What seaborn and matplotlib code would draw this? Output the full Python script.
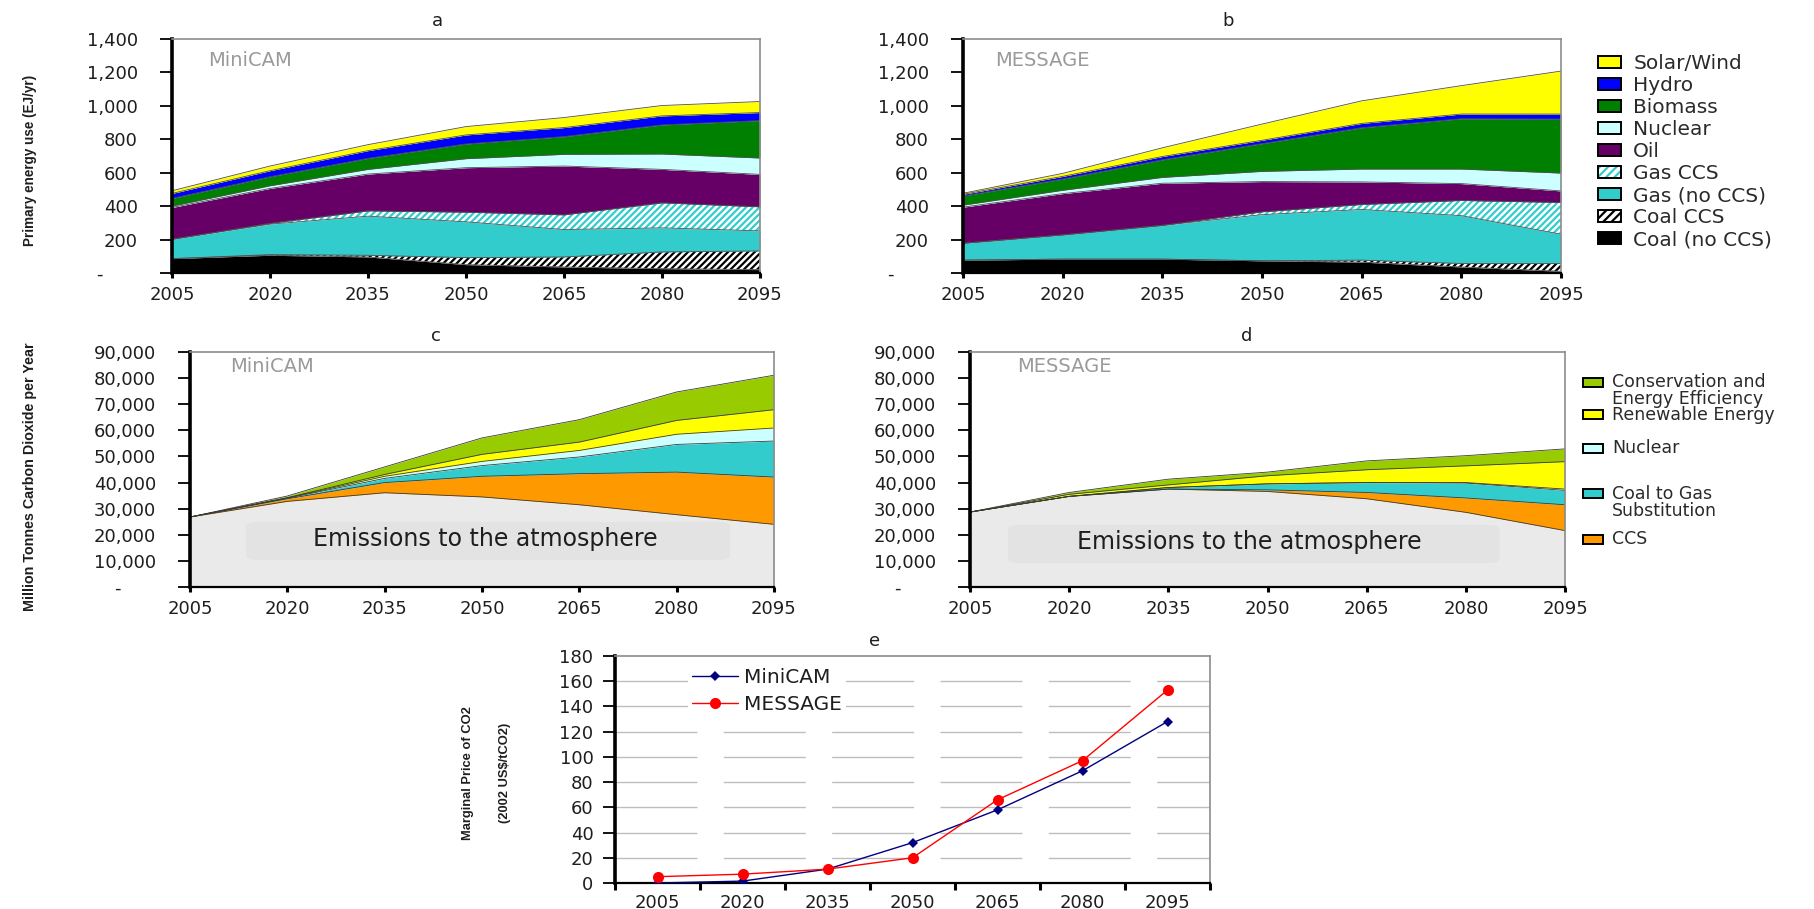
import numpy as np
import pandas as pd
import matplotlib
matplotlib.use("Agg")
import matplotlib.pyplot as plt
from matplotlib import font_manager
from matplotlib.patches import Patch, Rectangle, FancyBboxPatch
from matplotlib.ticker import FuncFormatter, FixedLocator
import seaborn as sns

# ---------------- data ----------------
years = [2005, 2020, 2035, 2050, 2065, 2080, 2095]

# Primary energy by source (EJ/yr), bottom to top
energy_sources = ["Coal (no CCS)", "Coal CCS", "Gas (no CCS)", "Gas CCS", "Oil",
                  "Nuclear", "Biomass", "Hydro", "Solar/Wind"]
minicam_energy_coal = [86, 106, 96, 50, 36, 26, 20]
minicam_energy_coal_ccs = [0, 4, 10, 42, 60, 100, 112]
minicam_energy_gas = [116, 182, 234, 214, 164, 144, 120]
minicam_energy_gas_ccs = [0, 5, 32, 58, 88, 150, 144]
minicam_energy_oil = [190, 209, 220, 266, 292, 200, 194]
minicam_energy_nuclear = [8, 16, 28, 54, 70, 92, 98]
minicam_energy_biomass = [46, 54, 66, 88, 106, 174, 224]
minicam_energy_hydro = [30, 36, 46, 54, 54, 54, 48]
minicam_energy_solar = [16, 28, 36, 50, 60, 62, 66]

message_energy_coal = [77, 83, 83, 73, 65, 36, 10]
message_energy_coal_ccs = [0, 0, 0, 0, 12, 21, 47]
message_energy_gas = [101, 145, 202, 276, 303, 286, 175]
message_energy_gas_ccs = [0, 0, 0, 17, 30, 91, 190]
message_energy_oil = [216, 247, 252, 181, 135, 101, 69]
message_energy_nuclear = [12, 20, 35, 61, 77, 87, 107]
message_energy_biomass = [55, 67, 105, 166, 247, 301, 323]
message_energy_hydro = [10, 16, 20, 20, 26, 28, 30]
message_energy_solar = [6, 18, 52, 97, 135, 170, 257]

# CO2 emissions and mitigation wedges (Mt CO2/yr), bottom to top
wedge_names = ["Emissions to the atmosphere", "CCS", "Coal to Gas\nSubstitution",
               "Nuclear", "Renewable Energy", "Conservation and\nEnergy Efficiency"]
minicam_emissions = [26800, 32800, 36100, 34500, 31500, 27700, 24000]
minicam_ccs = [0, 1000, 3900, 7900, 11900, 16300, 18100]
minicam_coal_to_gas = [0, 200, 1600, 4100, 6400, 10600, 13800]
minicam_nuclear = [0, 100, 800, 1600, 2500, 3900, 5000]
minicam_renewable = [0, 100, 700, 2700, 3200, 5300, 7000]
minicam_conservation = [0, 650, 2900, 6300, 8600, 10900, 13200]

message_emissions = [28700, 34700, 37500, 36600, 33800, 28600, 21600]
message_ccs = [0, 0, 0, 600, 2400, 5500, 9900]
message_coal_to_gas = [0, 0, 600, 2300, 3800, 5700, 5500]
message_nuclear = [0, 0, 0, 0, 0, 200, 500]
message_renewable = [0, 800, 1000, 3100, 4900, 6400, 10500]
message_conservation = [0, 700, 2200, 1400, 3400, 3900, 4900]

# Marginal price of CO2 (2002 US$/tCO2)
price_minicam = [0, 1.5, 11, 32, 58, 89, 128]
price_message = [5, 7, 11, 20, 66, 97, 153]

# ---------------- style ----------------
sns.set_style("white")
plt.rcParams["font.family"] = ["DejaVu Sans"]
plt.rcParams["hatch.linewidth"] = 1.6

installed = {f.name for f in font_manager.fontManager.ttflist}
if "Liberation Sans Narrow" in installed:
    YLAB = dict(family=["Liberation Sans Narrow"], fontweight="bold")
    YLAB_SCALE = 1.22
else:
    YLAB = dict(family=["Liberation Sans"], fontweight="bold")
    YLAB_SCALE = 0.93

W, H = 1814, 909
fig = plt.figure(figsize=(W / 100, H / 100), dpi=100)
fig.patch.set_facecolor("white")

TXT = "#1e1e1e"
GRAY_LABEL = "#9a9a9a"
TICK_FS = 13


def axes_px(left, right, top, bottom):
    return fig.add_axes([left / W, 1 - bottom / H, (right - left) / W, (bottom - top) / H])


def fig_text(x, y, s, **kw):
    return fig.text(x / W, 1 - y / H, s, **kw)


def style_axes(ax, ypad):
    for side in ("top", "right"):
        ax.spines[side].set_color("#8c8c8c")
        ax.spines[side].set_linewidth(1.2)
    ax.spines["left"].set_color("black")
    ax.spines["left"].set_linewidth(2.6)
    ax.spines["bottom"].set_color("black")
    ax.spines["bottom"].set_linewidth(1.6)
    ax.tick_params(axis="y", direction="out", length=8.5, width=1.3, color="black",
                   pad=ypad, labelsize=TICK_FS, labelcolor=TXT, left=True)
    ax.tick_params(axis="x", direction="out", length=3.5, width=2.2, color="black",
                   pad=6, labelsize=TICK_FS, labelcolor=TXT, bottom=True)


def thousands(v, _):
    if abs(v) < 1e-9:
        return "-      "
    return f"{v:,.0f}"


def stacked(ax, layers, specs, edge="#3a3a3a"):
    x = np.array(years, dtype=float)
    base = np.zeros(len(x))
    for vals, (color, hatched) in zip(layers, specs):
        top = base + np.asarray(vals, dtype=float)
        if hatched:
            ax.fill_between(x, base, top, facecolor="white", edgecolor=color,
                            hatch="/////", linewidth=0)
        else:
            ax.fill_between(x, base, top, facecolor=color, linewidth=0)
        ax.plot(x, top, color=edge, lw=0.6)
        base = top
    ax.set_xlim(years[0], years[-1])
    ax.set_xticks(years)
    ax.set_xticklabels([str(y) for y in years])


energy_specs = [("#000000", False), ("#000000", True), ("#33cccc", False), ("#33cccc", True),
                ("#660066", False), ("#ccffff", False), ("#008000", False),
                ("#0000ff", False), ("#ffff00", False)]
wedge_specs = [("#eaeaea", False), ("#ff9900", False), ("#33cccc", False),
               ("#ccffff", False), ("#ffff00", False), ("#99cc00", False)]

# ---------------- panel a ----------------
ax_a = axes_px(172, 760, 39, 273)
stacked(ax_a, [minicam_energy_coal, minicam_energy_coal_ccs, minicam_energy_gas,
               minicam_energy_gas_ccs, minicam_energy_oil, minicam_energy_nuclear,
               minicam_energy_biomass, minicam_energy_hydro, minicam_energy_solar],
        energy_specs, edge="#505050")
ax_a.set_ylim(0, 1400)
ax_a.set_yticks(range(0, 1401, 200))
ax_a.yaxis.set_major_formatter(FuncFormatter(thousands))
style_axes(ax_a, ypad=16)

# ---------------- panel b ----------------
ax_b = axes_px(963, 1561, 39, 273)
stacked(ax_b, [message_energy_coal, message_energy_coal_ccs, message_energy_gas,
               message_energy_gas_ccs, message_energy_oil, message_energy_nuclear,
               message_energy_biomass, message_energy_hydro, message_energy_solar],
        energy_specs, edge="#505050")
ax_b.set_ylim(0, 1400)
ax_b.set_yticks(range(0, 1401, 200))
ax_b.yaxis.set_major_formatter(FuncFormatter(thousands))
style_axes(ax_b, ypad=16)

# ---------------- panel c ----------------
ax_c = axes_px(190, 774, 352, 587)
stacked(ax_c, [minicam_emissions, minicam_ccs, minicam_coal_to_gas, minicam_nuclear,
               minicam_renewable, minicam_conservation], wedge_specs)
ax_c.set_ylim(0, 90000)
ax_c.set_yticks(range(0, 90001, 10000))
ax_c.yaxis.set_major_formatter(FuncFormatter(thousands))
style_axes(ax_c, ypad=16)

# ---------------- panel d ----------------
ax_d = axes_px(970, 1565, 352, 587)
stacked(ax_d, [message_emissions, message_ccs, message_coal_to_gas, message_nuclear,
               message_renewable, message_conservation], wedge_specs)
ax_d.set_ylim(0, 90000)
ax_d.set_yticks(range(0, 90001, 10000))
ax_d.yaxis.set_major_formatter(FuncFormatter(thousands))
style_axes(ax_d, ypad=16)

# emissions label boxes
for ax, box, centre in ((ax_c, (0.096, 0.115, 0.829, 0.162), (0.505, 0.205)),
                        (ax_d, (0.064, 0.102, 0.826, 0.162), (0.47, 0.19))):
    ax.add_patch(FancyBboxPatch((box[0], box[1]), box[2], box[3], transform=ax.transAxes,
                                boxstyle="round,pad=0,rounding_size=0.02",
                                facecolor="#e3e3e3", edgecolor="none", zorder=3))
    ax.text(centre[0], centre[1], wedge_names[0], transform=ax.transAxes, ha="center",
            va="center", fontsize=17, color=TXT, zorder=4)

# ---------------- panel e ----------------
ax_e = axes_px(615, 1210, 656, 883)
pos = np.arange(len(years)) + 0.5
price_df = pd.DataFrame({
    "pos": np.concatenate([pos, pos]),
    "price": price_minicam + price_message,
    "model": ["MiniCAM"] * len(years) + ["MESSAGE"] * len(years),
})
sns.lineplot(data=price_df[price_df.model == "MiniCAM"], x="pos", y="price", ax=ax_e,
             color="#000080", lw=1.0, marker="D", markersize=5.5, markeredgewidth=0,
             label="MiniCAM", zorder=5)
sns.lineplot(data=price_df[price_df.model == "MESSAGE"], x="pos", y="price", ax=ax_e,
             color="#ff0000", lw=1.0, marker="o", markersize=8, markeredgewidth=0,
             label="MESSAGE", zorder=5)
ax_e.set_xlim(0, len(years))
ax_e.set_ylim(0, 180)
ax_e.set_yticks(range(0, 181, 20))
ax_e.xaxis.set_major_locator(FixedLocator(np.arange(len(years) + 1)))
ax_e.xaxis.set_minor_locator(FixedLocator(pos))
ax_e.set_xticklabels([])
ax_e.set_xticklabels([str(y) for y in years], minor=True)
ax_e.set_xlabel("")
ax_e.set_ylabel("")
for yv in range(20, 180, 20):
    ax_e.axhline(yv, color="#bdbdbd", lw=1.0, dashes=(59, 19), zorder=1)
style_axes(ax_e, ypad=7)
ax_e.tick_params(axis="x", which="minor", length=0, pad=8, labelsize=TICK_FS, labelcolor=TXT)
ax_e.tick_params(axis="x", which="major", length=5)
leg_e = ax_e.legend(loc="upper left", bbox_to_anchor=((688 - 615) / 595, 1 - (664 - 656) / 227),
                    frameon=True, facecolor="white", edgecolor="none", framealpha=1,
                    fontsize=14.5, labelspacing=0.38, handlelength=2.3, handletextpad=0.3,
                    borderpad=0.2, borderaxespad=0)
for t in leg_e.get_texts():
    t.set_color(TXT)
leg_e.set_zorder(6)

# ---------------- titles & labels ----------------
for letter, (x, y) in zip("abcde", [(437, 21), (1228, 21), (436, 336), (1247, 336), (875, 641)]):
    fig_text(x, y, letter, ha="center", va="center", fontsize=13, color=TXT)

for name, (x, y) in zip(["MiniCAM", "MESSAGE", "MiniCAM", "MESSAGE"],
                        [(208, 61), (995, 61), (230, 367), (1017, 367)]):
    fig_text(x, y, name, ha="left", va="center", fontsize=14, color=GRAY_LABEL)

fig_text(30, 160, "Primary energy use (EJ/yr)", rotation=90, ha="center", va="center",
         fontsize=10.5 * YLAB_SCALE, color=TXT, **YLAB)
fig_text(30, 477, "Million Tonnes Carbon Dioxide per Year", rotation=90, ha="center",
         va="center", fontsize=11 * YLAB_SCALE, color=TXT, **YLAB)
fig_text(468, 773, "Marginal Price of CO2", rotation=90, ha="center", va="center",
         fontsize=10 * YLAB_SCALE, color=TXT, **YLAB)
fig_text(505, 773, "(2002 US$/tCO2)", rotation=90, ha="center", va="center",
         fontsize=10 * YLAB_SCALE, color=TXT, **YLAB)

# ---------------- legend for energy panels ----------------
energy_handles = []
for name, (color, hatched) in list(zip(energy_sources, energy_specs))[::-1]:
    if hatched:
        energy_handles.append((Patch(facecolor="white", edgecolor=color, hatch="////",
                                     linewidth=0),
                               Patch(facecolor="none", edgecolor="black", linewidth=1.4)))
    else:
        energy_handles.append(Patch(facecolor=color, edgecolor="black", linewidth=1.4))
leg_ab = fig.legend(handles=energy_handles, labels=energy_sources[::-1], loc="upper left",
                    bbox_to_anchor=(1598 / W, 1 - 54 / H), frameon=False, fontsize=14.5,
                    labelspacing=0.15, handlelength=1.15, handleheight=0.5,
                    handletextpad=0.6, borderpad=0, borderaxespad=0)
for t in leg_ab.get_texts():
    t.set_color("#2a2a2a")

# ---------------- legend for emissions panels ----------------
wedge_rows = [(wedge_names[5], wedge_specs[5][0], 382),
              (wedge_names[4], wedge_specs[4][0], 415),
              (wedge_names[3], wedge_specs[3][0], 448),
              (wedge_names[2], wedge_specs[2][0], 494),
              (wedge_names[1], wedge_specs[1][0], 539)]
for label, color, yc in wedge_rows:
    fig.add_artist(Rectangle((1583 / W, 1 - (yc + 4.5) / H), 20 / W, 9 / H,
                             facecolor=color, edgecolor="black", linewidth=1.4,
                             transform=fig.transFigure))
    fig_text(1612, yc - 9, label, ha="left", va="top", fontsize=12.5, color="#2a2a2a",
             linespacing=0.92)

fig.savefig("out.png", dpi=100, facecolor="white")
